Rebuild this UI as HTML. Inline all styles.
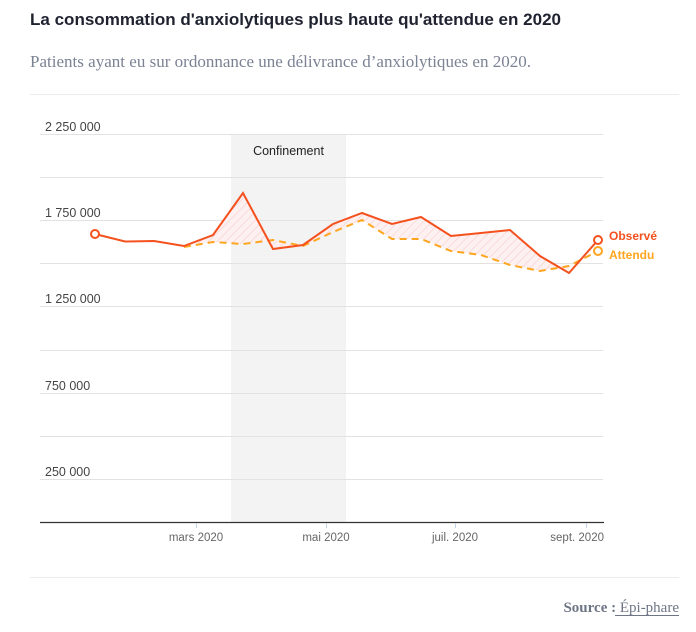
<!DOCTYPE html>
<html><head><meta charset="utf-8"><style>
body{margin:0;background:#fff;width:696px;height:627px;overflow:hidden;font-family:"Liberation Sans",sans-serif}
</style></head><body>
<svg width="696" height="627" xmlns="http://www.w3.org/2000/svg">
<defs><pattern id="h" width="6" height="6" patternUnits="userSpaceOnUse" patternTransform="rotate(45)"><rect width="6" height="6" fill="#fdf0f0"/><line x1="0" y1="0" x2="0" y2="6" stroke="#f6c9c9" stroke-width="1"/></pattern></defs>
<text x="30" y="25" font-size="17" font-weight="bold" fill="#1f2330" textLength="531" lengthAdjust="spacingAndGlyphs">La consommation d'anxiolytiques plus haute qu'attendue en 2020</text>
<text x="30" y="67" font-size="16.5" fill="#7b8294" font-family="Liberation Serif, serif" textLength="501" lengthAdjust="spacingAndGlyphs">Patients ayant eu sur ordonnance une délivrance d’anxiolytiques en 2020.</text>
<line x1="30" y1="94.5" x2="679" y2="94.5" stroke="#ececec"/>
<rect x="231" y="134" width="115" height="388" fill="#f3f3f3"/>
<g stroke="#e2e2e2" stroke-width="1">
<line x1="40" y1="134.5" x2="603" y2="134.5"/><line x1="40" y1="177.5" x2="603" y2="177.5"/><line x1="40" y1="220.5" x2="603" y2="220.5"/><line x1="40" y1="263.5" x2="603" y2="263.5"/><line x1="40" y1="306.5" x2="603" y2="306.5"/><line x1="40" y1="350.5" x2="603" y2="350.5"/><line x1="40" y1="393.5" x2="603" y2="393.5"/><line x1="40" y1="436.5" x2="603" y2="436.5"/><line x1="40" y1="479.5" x2="603" y2="479.5"/>
</g>
<g font-size="12.5" fill="#444">
<text x="45" y="131">2 250 000</text><text x="45" y="217">1 750 000</text><text x="45" y="303">1 250 000</text><text x="45" y="390">750 000</text><text x="45" y="476">250 000</text>
</g>
<text x="288.5" y="155" font-size="12.5" fill="#222" text-anchor="middle">Confinement</text>
<polygon fill="url(#h)" points="184,246 213,235 243,193 273,249 303,245 333,224 362,213 392,224 421,217 451,236 481,233 510,230 540,256 569,273 569,266 540,271 510,265 481,255 451,251 421,239 392,239 362,220 333,232 303,246 273,240 243,244 213,242"/>
<polyline fill="none" stroke="#ffa51f" stroke-width="2" stroke-dasharray="7,5" points="184,247 213,242 243,244 273,240 303,246 333,232 362,220 392,239 421,239 451,251 481,255 510,265 540,271 569,266 598,251"/>
<polyline fill="none" stroke="#f4511e" stroke-width="2" points="95,234 125,241.5 154,241 184,246 213,235 243,193 273,249 303,245 333,224 362,213 392,224 421,217 451,236 481,233 510,230 540,256 569,273 598,240"/>
<circle cx="95" cy="234" r="4" fill="#fff" stroke="#f4511e" stroke-width="2"/>
<circle cx="598" cy="251" r="4" fill="#fff" stroke="#ffa51f" stroke-width="2"/>
<circle cx="598" cy="240" r="4" fill="#fff" stroke="#f4511e" stroke-width="2"/>
<text x="609" y="240" font-size="12" font-weight="bold" fill="#f4511e">Observé</text>
<text x="609" y="259" font-size="12" font-weight="bold" fill="#ffa51f">Attendu</text>
<line x1="40" y1="522.5" x2="604" y2="522.5" stroke="#333" stroke-width="1.2"/>
<g stroke="#c5d3e6"><line x1="196.5" y1="523" x2="196.5" y2="528"/><line x1="326.5" y1="523" x2="326.5" y2="528"/><line x1="455.5" y1="523" x2="455.5" y2="528"/><line x1="586.5" y1="523" x2="586.5" y2="528"/></g>
<g font-size="11.5" fill="#666" text-anchor="middle">
<text x="196" y="541">mars 2020</text><text x="326" y="541">mai 2020</text><text x="455" y="541">juil. 2020</text><text x="604" y="541" text-anchor="end">sept. 2020</text>
</g>
<line x1="30" y1="577.5" x2="679" y2="577.5" stroke="#ececec"/>
<text x="679" y="612" font-size="15" fill="#6e7585" text-anchor="end" font-family="Liberation Serif, serif"><tspan font-weight="bold">Source : </tspan>Épi-phare</text>
<line x1="615" y1="615.5" x2="679" y2="615.5" stroke="#6e7585"/>
</svg>
</body></html>
